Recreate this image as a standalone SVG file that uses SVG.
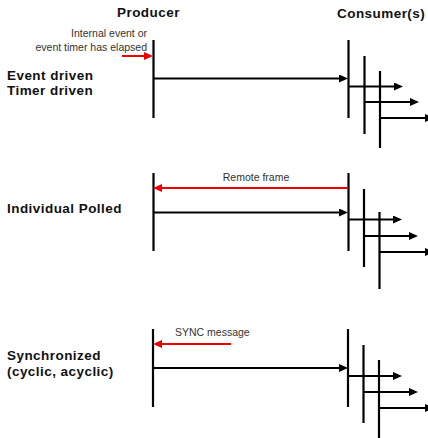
<svg xmlns="http://www.w3.org/2000/svg" width="428" height="438" viewBox="0 0 428 438">
<style>
.hd{font-family:"Liberation Sans",Arial,sans-serif;font-weight:bold;font-size:13.5px;letter-spacing:0.45px;fill:#111}
.sm{font-family:"Liberation Sans",Arial,sans-serif;font-size:10.5px;fill:#333}
.life{stroke:#000;stroke-width:2.2;fill:none}
.msg{stroke:#000;stroke-width:2;fill:none;marker-end:url(#ah)}
.req{stroke:#e00;stroke-width:2;fill:none;marker-end:url(#ahr)}
</style>
<defs>
<marker id="ah" markerUnits="userSpaceOnUse" markerWidth="10" markerHeight="9" refX="5" refY="4" orient="auto">
<path d="M0,0 L9,4 L0,8 z" fill="#000"/>
</marker>
<marker id="ahr" markerUnits="userSpaceOnUse" markerWidth="10" markerHeight="9" refX="5" refY="4" orient="auto">
<path d="M0,0 L9,4 L0,8 z" fill="#e00"/>
</marker>
</defs>
<rect width="428" height="438" fill="#fff"/>
<g id="headers">
<text class="hd" x="117" y="16.7">Producer</text>
<text class="hd" x="337" y="18">Consumer(s)</text>
</g>
<g id="labels">
<text class="hd" x="7" y="79.5">Event driven</text>
<text class="hd" x="7" y="95">Timer driven</text>
<text class="hd" x="7" y="212.5">Individual Polled</text>
<text class="hd" x="7" y="360">Synchronized</text>
<text class="hd" x="7" y="375.5">(cyclic, acyclic)</text>
<text class="sm" x="147" y="37" text-anchor="end">Internal event or</text>
<text class="sm" x="147" y="50.5" text-anchor="end">event timer has elapsed</text>
<text class="sm" x="256" y="181" text-anchor="middle">Remote frame</text>
<text class="sm" x="175" y="336">SYNC message</text>
</g>
<g id="section1-producer"><line class="life" x1="153.5" y1="40" x2="153.5" y2="118"/></g>
<g id="section1-consumers">
<line class="life" x1="348.5" y1="40" x2="348.5" y2="118"/>
<line class="life" x1="364.5" y1="56" x2="364.5" y2="134"/>
<line class="life" x1="380" y1="71" x2="380" y2="148"/>
</g>
<g id="section2-producer"><line class="life" x1="153.5" y1="173" x2="153.5" y2="251"/></g>
<g id="section2-consumers">
<line class="life" x1="348.5" y1="173" x2="348.5" y2="251"/>
<line class="life" x1="364" y1="189" x2="364" y2="267"/>
<line class="life" x1="379.5" y1="212" x2="379.5" y2="289"/>
</g>
<g id="section3-producer"><line class="life" x1="153" y1="329" x2="153" y2="407"/></g>
<g id="section3-consumers">
<line class="life" x1="348" y1="329" x2="348" y2="407"/>
<line class="life" x1="363.5" y1="345" x2="363.5" y2="423"/>
<line class="life" x1="379" y1="360" x2="379" y2="438"/>
</g>
<g id="connectors">
<line class="req" x1="122" y1="56" x2="149" y2="56"/>
<line class="msg" x1="154" y1="78.5" x2="344" y2="78.5"/>
<line class="msg" x1="348" y1="86.5" x2="399" y2="86.5"/>
<line class="msg" x1="364.5" y1="102" x2="415" y2="102"/>
<line class="msg" x1="380" y1="118" x2="430" y2="118"/>

<line class="req" x1="348" y1="188" x2="157" y2="188"/>
<line class="msg" x1="154" y1="212.5" x2="344" y2="212.5"/>
<line class="msg" x1="348" y1="219.5" x2="398" y2="219.5"/>
<line class="msg" x1="364" y1="236" x2="414" y2="236"/>
<line class="msg" x1="379.5" y1="252" x2="430" y2="252"/>

<line class="req" x1="231" y1="344" x2="157" y2="344"/>
<line class="msg" x1="153" y1="368" x2="344" y2="368"/>
<line class="msg" x1="348" y1="376" x2="398" y2="376"/>
<line class="msg" x1="363.5" y1="392" x2="414" y2="392"/>
<line class="msg" x1="379" y1="408" x2="430" y2="408"/>
</g>
</svg>
